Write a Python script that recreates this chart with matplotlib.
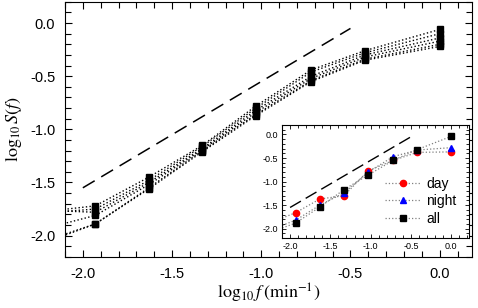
import matplotlib
matplotlib.use("Agg")
import matplotlib.pyplot as plt
from matplotlib.ticker import MultipleLocator

plt.rcParams['font.family'] = ['Liberation Sans', 'DejaVu Sans']
plt.rcParams['mathtext.fontset'] = 'stix'

# log10 f points (first one lies left of the visible range)
log_f = [-2.25, -1.93, -1.63, -1.33, -1.03, -0.72, -0.42, 0.0]

# main panel: several individual series, all black squares on dotted lines
main_series = [
    [-1.78, -1.72, -1.45, -1.15, -0.78, -0.44, -0.26, -0.06],
    [-1.79, -1.75, -1.48, -1.16, -0.80, -0.46, -0.28, -0.10],
    [-1.76, -1.78, -1.50, -1.18, -0.82, -0.50, -0.30, -0.14],
    [-1.95, -1.81, -1.52, -1.19, -0.84, -0.52, -0.32, -0.17],
    [-2.07, -1.89, -1.55, -1.20, -0.86, -0.54, -0.34, -0.20],
    [-2.09, -1.89, -1.56, -1.21, -0.87, -0.55, -0.35, -0.22],
]

# inset: averaged series
day = [-1.88, -1.66, -1.37, -1.30, -0.77, -0.55, -0.38, -0.37]
night = [-2.03, -1.82, -1.50, -1.24, -0.80, -0.47, -0.33, -0.28]
everything = [-2.08, -1.88, -1.54, -1.17, -0.86, -0.55, -0.32, -0.04]

# reference slope-1 line
ref_x = [-2.0, -0.5]
ref_y = [-1.55, -0.05]

fig = plt.figure(figsize=(4.78, 3.08), dpi=100)
ax = fig.add_axes([0.136, 0.166, 0.851, 0.828])

for s in main_series:
    ax.plot(log_f, s, ls=':', color='black', lw=1.0, marker='s', ms=4.5,
            mfc='black', mec='black')
ax.plot(ref_x, ref_y, ls=(0, (9, 5)), color='black', lw=1.1)

ax.set_xlim(-2.1, 0.18)
ax.set_ylim(-2.2, 0.2)
ax.xaxis.set_major_locator(MultipleLocator(0.5))
ax.xaxis.set_minor_locator(MultipleLocator(0.1))
ax.yaxis.set_major_locator(MultipleLocator(0.5))
ax.yaxis.set_minor_locator(MultipleLocator(0.1))
ax.xaxis.set_major_formatter(matplotlib.ticker.FormatStrFormatter('%.1f'))
ax.yaxis.set_major_formatter(matplotlib.ticker.FormatStrFormatter('%.1f'))
ax.tick_params(which='both', direction='in', top=True, right=True, labelsize=10.5)
ax.tick_params(which='major', length=5, width=0.8, pad=7)
ax.tick_params(which='minor', length=4, width=0.8)
ax.set_xlabel(r'$\log_{10}f\,(\mathrm{min}^{-1})$', fontsize=13, labelpad=1)
ax.set_ylabel(r'$\log_{10}S(f)$', fontsize=13, labelpad=4)

# inset
ins = fig.add_axes([0.590, 0.227, 0.391, 0.367])
ins.plot(log_f, day, ls=':', color='gray', lw=0.9, marker='o', ms=4.5,
         mfc='red', mec='red', label='day')
ins.plot(log_f, night, ls=':', color='gray', lw=0.9, marker='^', ms=4.5,
         mfc='blue', mec='blue', label='night')
ins.plot(log_f, everything, ls=':', color='gray', lw=0.9, marker='s', ms=4,
         mfc='black', mec='black', label='all')
ins.plot(ref_x, ref_y, ls=(0, (9, 4)), color='black', lw=1.0)
ins.set_xlim(-2.1, 0.22)
ins.set_ylim(-2.2, 0.2)
ins.xaxis.set_major_locator(MultipleLocator(0.5))
ins.xaxis.set_minor_locator(MultipleLocator(0.1))
ins.yaxis.set_major_locator(MultipleLocator(0.5))
ins.yaxis.set_minor_locator(MultipleLocator(0.1))
ins.xaxis.set_major_formatter(matplotlib.ticker.FormatStrFormatter('%.1f'))
ins.yaxis.set_major_formatter(matplotlib.ticker.FormatStrFormatter('%.1f'))
ins.tick_params(which='both', direction='in', top=True, right=True, labelsize=6.5)
ins.tick_params(which='major', length=3, width=0.6, pad=3)
ins.tick_params(which='minor', length=2.5, width=0.6)
ins.legend(loc='lower right', frameon=False, fontsize=10, handlelength=2.6,
           labelspacing=0.25, handletextpad=0.4, bbox_to_anchor=(1.0, 0.0))

fig.savefig('out.png', dpi=100)
